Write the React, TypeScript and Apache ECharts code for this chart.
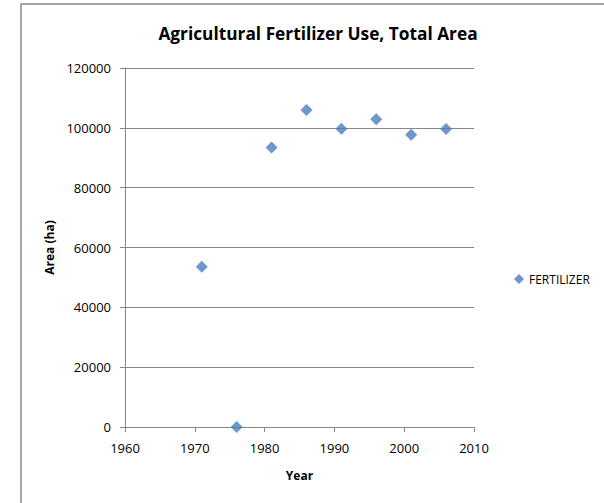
import React, { useEffect, useRef } from "react";
import * as echarts from "echarts";

const years = [1971, 1976, 1981, 1986, 1991, 1996, 2001, 2006];
const fertilizer = [53600, 0, 93400, 106000, 99700, 102900, 97700, 99600];
const seriesName = "FERTILIZER";
const titleText = "Agricultural Fertilizer Use, Total Area";

export default function App() {
  const ref = useRef<HTMLDivElement>(null);
  useEffect(() => {
    if (!ref.current) return;
    const chart = echarts.init(ref.current, null, { renderer: "svg" });
    const font = "'Open Sans', sans-serif";
    chart.setOption({
      animation: false,
      backgroundColor: "#ffffff",
      textStyle: { fontFamily: font },
      title: {
        text: titleText,
        left: 313,
        top: 20,
        textAlign: "center",
        textStyle: { fontFamily: font, fontWeight: "bold", fontSize: 17.3, color: "#000" },
      },
      legend: {
        data: [seriesName],
        left: 509,
        top: 268,
        orient: "vertical",
        itemWidth: 10,
        itemHeight: 10,
        itemGap: 4,
        textStyle: { fontFamily: font, fontSize: 12, color: "#000" },
      },
      grid: { left: 125, right: 130, top: 68, bottom: 76, containLabel: false },
      xAxis: {
        type: "value",
        min: 1960,
        max: 2010,
        interval: 10,
        name: "Year",
        nameLocation: "middle",
        nameGap: 42,
        nameTextStyle: { fontFamily: font, fontWeight: "bold", fontSize: 12, color: "#000" },
        axisLine: { show: true, onZero: false, lineStyle: { color: "#868686", width: 1 } },
        axisTick: { show: true, inside: false, length: 5, lineStyle: { color: "#868686" } },
        axisLabel: {
          fontFamily: font,
          fontSize: 13,
          color: "#000",
          margin: 14,
          formatter: (v: number) => String(v),
        },
        splitLine: { show: false },
      },
      yAxis: {
        type: "value",
        min: 0,
        max: 120000,
        interval: 20000,
        name: "Area (ha)",
        nameLocation: "middle",
        nameGap: 70,
        nameRotate: 90,
        nameTextStyle: { fontFamily: font, fontWeight: "bold", fontSize: 12, color: "#000" },
        axisLine: { show: true, lineStyle: { color: "#868686", width: 1 } },
        axisTick: { show: true, inside: false, length: 5, lineStyle: { color: "#868686" } },
        axisLabel: {
          fontFamily: font,
          fontSize: 13,
          color: "#000",
          margin: 14,
          formatter: (v: number) => String(v),
        },
        splitLine: { show: true, lineStyle: { color: "#868686", width: 1 } },
      },
      graphic: [
        {
          type: "rect",
          shape: { x: 21, y: 4, width: 700, height: 700 },
          style: { fill: "none", stroke: "#8a8a8a", lineWidth: 1.5 },
          silent: true,
          z: 100,
        },
      ],
      series: [
        {
          name: seriesName,
          type: "scatter",
          symbol: "diamond",
          symbolSize: 12,
          itemStyle: { color: "#4A7EBB" },
          data: years.map((y, i) => [y, fertilizer[i]]),
        },
      ],
    });
    return () => chart.dispose();
  }, []);
  return (
    <div
      ref={ref}
      style={{ position: "fixed", left: 0, top: 0, width: 604, height: 503 }}
    />
  );
}
